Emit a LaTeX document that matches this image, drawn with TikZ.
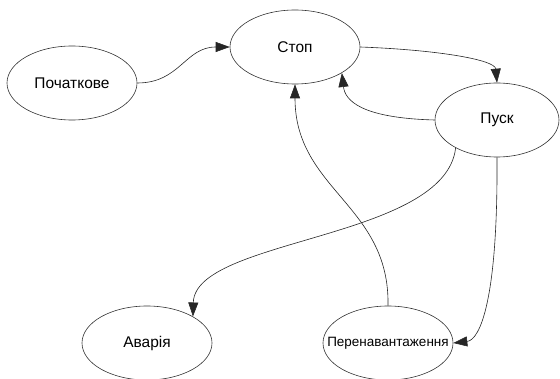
\documentclass[tikz,border=0pt]{standalone}
\usepackage{fontspec}
\setmainfont{Liberation Sans}
\usetikzlibrary{shapes.geometric,arrows.meta}
\begin{document}
\begin{tikzpicture}[x=1pt,y=-1pt,
  st/.style={ellipse,draw=black!80,line width=0.6pt,minimum width=130pt,minimum height=74pt,inner sep=0pt,font=\fontsize{15.5}{17}\selectfont},
  con/.style={draw=black!85,line width=0.6pt,-{Triangle[length=14pt,width=10pt]}}]
\useasboundingbox (0,0) rectangle (560,379);
\node[st] (p) at (72,83) {Початкове};
\node[st] (s) at (295,47) {Стоп};
\node[st,minimum width=124pt] (pu) at (497,120) {Пуск};
\node[st] (av) at (147,343) {Аварія};
\node[st,inner xsep=-30pt,font=\fontsize{13.5}{15}\selectfont] (pr) at (388,343) {Перенавантаження};
\draw[con] (p.east) .. controls (180,83) and (185,47) .. (s.west);
\draw[con] (s.east) .. controls (440,50) and (495,60) .. (pu.north);
\draw[con] (pu.west) .. controls (360,118) and (345,100) .. (s.-29);
\draw[con] (pr.north) .. controls (390,205) and (295,190) .. (s.south);
\draw[con] (pu.-146) .. controls (445,240) and (195,238) .. (av.30);
\draw[con] (pu.south) .. controls (498,300) and (480,340) .. (pr.east);
\end{tikzpicture}
\end{document}
